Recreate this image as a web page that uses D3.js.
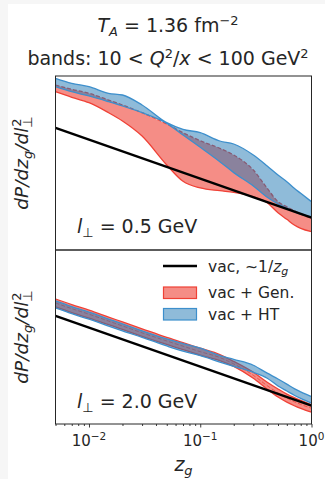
<!DOCTYPE html>
<html>
<head>
<meta charset="utf-8">
<script src="https://cdn.jsdelivr.net/npm/d3@7"></script>
<style>
  html, body { margin: 0; padding: 0; background: #f6f6f6; }
  svg { display: block; font-family: "DejaVu Sans", sans-serif; }
</style>
</head>
<body>
<svg id="chart" width="325" height="479"></svg>
<script>
// z_g grid the curves were read at
const zGrid = [0.005, 0.007, 0.01, 0.015, 0.02, 0.03, 0.05, 0.07, 0.1, 0.15, 0.2, 0.3, 0.4, 0.5, 0.6, 0.7, 0.8, 1.0];

// vacuum ~ 1/z_g
const vacZ = [0.005, 1.0];
const vacTop = [200, 1.0];
const vacBot = [200, 1.0];

// l_perp = 0.5 GeV
const genHiTop = [2530, 1960, 1550, 1040, 776, 492, 253, 151, 94.3, 60.2, 40.5, 16.7, 5.67, 2.57, 1.91, 1.51, 1.24, 0.97];
const genLoTop = [1700, 1220, 889, 492, 302, 124, 22.5, 8.58, 5.78, 4.92, 4.48, 3.45, 2.42, 1.34, 0.91, 0.65, 0.535, 0.438];
const htHiTop  = [3750, 2790, 2290, 1550, 1400, 776, 273, 185, 151, 92.6, 77.6, 40.5, 21.2, 12.4, 8.38, 5.67, 4.22, 2.57];
const htLoTop  = [2290, 1700, 1320, 942, 731, 492, 263, 132, 63.8, 27.3, 14.3, 6.50, 3.33, 2.25, 1.74, 1.43, 1.24, 1.06];

// l_perp = 2.0 GeV
const genHiBot  = [546, 390, 281, 187.5, 140.6, 93.7, 56.2, 41.4, 29.8, 20.5, 13.65, 7.18, 4.01, 2.69, 1.99, 1.61, 1.37, 1.06];
const genLoBot  = [340, 243, 175, 120.4, 90.3, 60.2, 37.2, 27.4, 19.7, 14.4, 10.2, 5.04, 2.65, 1.675, 1.24, 1.00, 0.851, 0.681];
const genMidBot = [431, 308, 222, 148, 111, 74.0, 45.7, 33.6, 24.3, 17.2, 11.8, 6.02, 3.26, 2.12, 1.57, 1.27, 1.08, 0.863];
const htHiBot   = [485, 347, 250, 166.6, 125, 83.3, 51.5, 39.0, 29.8, 19.3, 15.4, 10.9, 6.83, 4.85, 3.59, 2.74, 2.26, 1.70];
const htLoBot   = [321, 229, 165, 110, 82.6, 56.7, 34.0, 25.0, 19.2, 13.2, 10.2, 7.18, 5.08, 3.21, 2.38, 1.86, 1.54, 1.16];

const majorTicks = [0.01, 0.1, 1];
const tickExp = ["−2", "−1", "0"];

const RED = "#ef4136", BLUE = "#1f77b4", BLUE_EDGE = "#3d8fcc";

const svg = d3.select("#chart");
svg.append("rect").attr("x", 8).attr("y", 4).attr("width", 317).attr("height", 475).attr("fill", "#fff");

const L = 55.5, R = 311.5, T = 76, M = 250, B = 424;
const x = d3.scaleLog().domain([0.005, 1]).range([L, R]);
const yTop = d3.scaleLog().domain([0.1486, 4297]).range([M, T]);
const yBot = d3.scaleLog().domain([0.340, 9820]).range([B, M]);

function zip(lo, hi) {
  return zGrid.map((z, i) => ({ z: z, lo: lo[i], hi: hi[i] }));
}

function panel(id, y, y0, y1, gen, ht, dashed, vac) {
  svg.append("clipPath").attr("id", id)
    .append("rect").attr("x", L).attr("y", y1).attr("width", R - L).attr("height", y0 - y1);
  const g = svg.append("g").attr("clip-path", `url(#${id})`);

  const area = d3.area().x(d => x(d.z)).y0(d => y(d.lo)).y1(d => y(d.hi)).curve(d3.curveMonotoneX);
  const line = d3.line().x(d => x(d[0])).y(d => y(d[1])).curve(d3.curveMonotoneX);

  // vac + Gen.
  g.append("path").attr("d", area(gen)).attr("fill", RED).attr("fill-opacity", 0.6).attr("stroke", "none");
  g.append("path").attr("d", line(gen.map(d => [d.z, d.lo]))).attr("fill", "none").attr("stroke", RED).attr("stroke-width", 1.3);
  if (dashed === null) {
    g.append("path").attr("d", line(gen.map(d => [d.z, d.hi]))).attr("fill", "none").attr("stroke", RED)
      .attr("stroke-width", 1.3).attr("stroke-dasharray", "4,2");
  } else {
    g.append("path").attr("d", line(gen.map(d => [d.z, d.hi]))).attr("fill", "none").attr("stroke", RED).attr("stroke-width", 1.3);
    g.append("path").attr("d", line(zGrid.map((z, i) => [z, dashed[i]]))).attr("fill", "none").attr("stroke", RED)
      .attr("stroke-width", 1).attr("stroke-dasharray", "4,2").attr("opacity", 0.8);
  }

  // vac + HT
  g.append("path").attr("d", area(ht)).attr("fill", BLUE).attr("fill-opacity", 0.5)
    .attr("stroke", BLUE_EDGE).attr("stroke-width", 1.3);

  // vacuum
  g.append("path").attr("d", d3.line().x(d => x(d[0])).y(d => y(d[1]))(vacZ.map((z, i) => [z, vac[i]])))
    .attr("fill", "none").attr("stroke", "#000").attr("stroke-width", 2.4);

  svg.append("rect").attr("x", L).attr("y", y1).attr("width", R - L).attr("height", y0 - y1)
    .attr("fill", "none").attr("stroke", "#262626").attr("stroke-width", 1);
}

panel("clipTop", yTop, M, T, zip(genLoTop, genHiTop), zip(htLoTop, htHiTop), null, vacTop);
panel("clipBot", yBot, B, M, zip(genLoBot, genHiBot), zip(htLoBot, htHiBot), genMidBot, vacBot);

// x axis ticks
const minor = [];
[0.001, 0.01, 0.1].forEach(p => { for (let k = 2; k <= 9; k++) { const v = p * k; if (v >= 0.005 && v < 1) minor.push(v); } });
const axMinor = svg.append("g").attr("transform", `translate(0,${B})`)
  .call(d3.axisBottom(x).tickValues(minor).tickSize(2).tickSizeOuter(0).tickFormat(""));
const axMajor = svg.append("g").attr("transform", `translate(0,${B})`)
  .call(d3.axisBottom(x).tickValues(majorTicks).tickSize(3.5).tickSizeOuter(0).tickFormat(""));
[axMinor, axMajor].forEach(a => {
  a.select(".domain").remove();
  a.selectAll("line").attr("stroke", "#262626").attr("stroke-width", 0.9);
});

majorTicks.forEach((v, i) => {
  svg.append("text").attr("x", x(v)).attr("y", 446).attr("text-anchor", "middle")
    .attr("font-size", 15).attr("fill", "#262626")
    .html(`10<tspan font-size="10.5" dy="-6.5">${tickExp[i]}</tspan>`);
});

// x label
svg.append("text").attr("x", 183.5).attr("y", 471).attr("text-anchor", "middle").attr("font-size", 19).attr("fill", "#262626")
  .html(`<tspan font-style="italic">z</tspan><tspan font-style="italic" font-size="13" dy="4">g</tspan>`);

// y labels
[(T + M) / 2, (M + B) / 2].forEach(cy => {
  svg.append("text").attr("transform", `translate(28,${cy}) rotate(-90)`).attr("text-anchor", "middle")
    .attr("font-size", 18.5).attr("fill", "#262626").attr("font-style", "italic")
    .html(`dP/dz<tspan font-size="13" dy="4">g</tspan><tspan dy="-4">/dl</tspan><tspan font-style="normal" font-size="13" dy="4">⊥</tspan><tspan font-style="normal" font-size="13" dx="-10.5" dy="-11.5">2</tspan>`);
});

// panel labels
[["0.5", 233], ["2.0", 408]].forEach(p => {
  svg.append("text").attr("x", 77).attr("y", p[1]).attr("font-size", 19).attr("fill", "#262626")
    .html(`<tspan font-style="italic">l</tspan><tspan font-size="13" dy="4">⊥</tspan><tspan dy="-4"> = ${p[0]} GeV</tspan>`);
});

// title
svg.append("text").attr("x", 168).attr("y", 32).attr("text-anchor", "middle").attr("font-size", 19).attr("fill", "#262626")
  .html(`<tspan font-style="italic">T</tspan><tspan font-style="italic" font-size="13" dy="4">A</tspan><tspan dy="-4"> = 1.36 fm</tspan><tspan font-size="13" dy="-7.5">−2</tspan>`);
svg.append("text").attr("x", 168).attr("y", 65).attr("text-anchor", "middle").attr("font-size", 19).attr("fill", "#262626")
  .html(`bands: 10 &lt; <tspan font-style="italic">Q</tspan><tspan font-size="13" dy="-7.5">2</tspan><tspan dy="7.5">/</tspan><tspan font-style="italic">x</tspan> &lt; 100 GeV<tspan font-size="13" dy="-7.5">2</tspan>`);

// legend
const lg = svg.append("g");
lg.append("line").attr("x1", 163).attr("x2", 197).attr("y1", 266).attr("y2", 266).attr("stroke", "#000").attr("stroke-width", 2.4);
lg.append("rect").attr("x", 163.5).attr("y", 287).attr("width", 33).attr("height", 11.5)
  .attr("fill", RED).attr("fill-opacity", 0.6).attr("stroke", RED).attr("stroke-width", 1.2);
lg.append("rect").attr("x", 163.5).attr("y", 308.5).attr("width", 33).attr("height", 11.5)
  .attr("fill", BLUE).attr("fill-opacity", 0.5).attr("stroke", BLUE_EDGE).attr("stroke-width", 1.2);
lg.append("text").attr("x", 208).attr("y", 271.5).attr("font-size", 15.5).attr("fill", "#262626")
  .html(`vac, ∼1/<tspan font-style="italic">z</tspan><tspan font-style="italic" font-size="11" dy="3.5">g</tspan>`);
lg.append("text").attr("x", 208).attr("y", 298).attr("font-size", 15.5).attr("fill", "#262626").text("vac + Gen.");
lg.append("text").attr("x", 208).attr("y", 319.5).attr("font-size", 15.5).attr("fill", "#262626").text("vac + HT");
</script>
</body>
</html>
